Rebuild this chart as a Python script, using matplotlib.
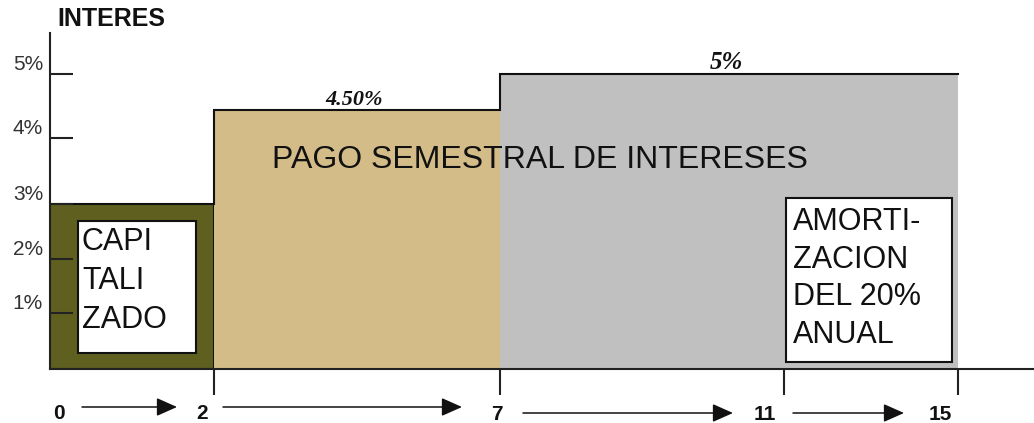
import numpy as np
import matplotlib
matplotlib.use("Agg")
import matplotlib.pyplot as plt
from matplotlib.transforms import ScaledTranslation
from matplotlib.patches import Rectangle

# ---------------- data ----------------
phase_start = [0, 2, 7]           # years
phase_end = [2, 7, 15]
phase_rate = [3.0, 4.5, 5.0]      # interest (%)
phase_colors = ["#5f601f", "#d4bc88", "#c0c0c0"]
phase_rate_labels = [None, "4.50%", "5%"]

year_ticks = [0, 2, 7, 11, 15]
year_labels = ["0", "2", "7", "11", "15"]
rate_ticks = [1, 2, 3, 4, 5]
rate_labels = ["1%", "2%", "3%", "4%", "5%"]

main_text = "PAGO SEMESTRAL DE INTERESES"
capi_text = "CAPI\nTALI\nZADO"
amort_text = "AMORTI-\nZACION\nDEL 20%\nANUAL"
y_title = "INTERES"

# ---------------- layout ----------------
W, H = 1034, 423
DPI = 100
x_px = [0, 164, 450, 734, 908]               # schematic (non-uniform) spacing of year_ticks
y_breaks = [0, 1, 2, 3, 4, 4.5, 5]           # schematic vertical spacing
y_px = [0, 56, 110, 165, 231, 259, 295]


def piecewise(xp, fp):
    xp = np.asarray(xp, float)
    fp = np.asarray(fp, float)

    def f(x):
        x = np.asarray(x, float)
        y = np.interp(x, xp, fp)
        lo_s = (fp[1] - fp[0]) / (xp[1] - xp[0])
        hi_s = (fp[-1] - fp[-2]) / (xp[-1] - xp[-2])
        y = np.where(x < xp[0], fp[0] + (x - xp[0]) * lo_s, y)
        y = np.where(x > xp[-1], fp[-1] + (x - xp[-1]) * hi_s, y)
        return y
    return f


xf, xinv = piecewise(year_ticks, x_px), piecewise(x_px, year_ticks)
yf, yinv = piecewise(y_breaks, y_px), piecewise(y_px, y_breaks)

SANS = "Liberation Sans"
plt.rcParams["font.family"] = [SANS, "DejaVu Sans"]

fig = plt.figure(figsize=(W / DPI, H / DPI), dpi=DPI)
ax = fig.add_axes([50 / W, (H - 369) / H, (W - 50) / W, (369 - 33) / H])
ax.set_xscale("function", functions=(xf, xinv))
ax.set_yscale("function", functions=(yf, yinv))
ax.set_xlim(0, float(xinv(984)))
ax.set_ylim(0, float(yinv(336)))

# blocks
widths = [e - s for s, e in zip(phase_start, phase_end)]
for i in range(len(phase_start)):
    ax.bar(phase_start[i], phase_rate[i], width=widths[i], align="edge",
           color=phase_colors[i],
           edgecolor="#111111" if i == 0 else "none",
           linewidth=1.5 if i == 0 else 0, zorder=1)

# step outline over the upper blocks
sx, sy = [phase_start[1]], [phase_rate[0]]
for i in range(1, len(phase_start)):
    sx += [phase_start[i], phase_end[i]]
    sy += [phase_rate[i], phase_rate[i]]
ax.plot(sx, sy, color="#111111", lw=1.5, zorder=2, solid_joinstyle="miter")

# white label boxes (layout, in axis units)
ax.add_patch(Rectangle((0.34, 0.29), 1.78 - 0.34, 2.69 - 0.29, facecolor="white",
                       edgecolor="#111111", lw=1.5, zorder=3))
ax.add_patch(Rectangle((11.05, 0.125), 14.86 - 11.05, 3.09 - 0.125, facecolor="white",
                       edgecolor="#111111", lw=1.5, zorder=3))
ax.annotate(capi_text, xy=(0.34, 2.69), xytext=(4, -6), textcoords="offset pixels",
            ha="left", va="top", fontsize=22, color="#111111", linespacing=1.38, zorder=4)
ax.annotate(amort_text, xy=(11.05, 3.09), xytext=(7, -9), textcoords="offset pixels",
            ha="left", va="top", fontsize=22, color="#111111", linespacing=1.33, zorder=4)

# main text
ax.text((540 - 50) / 984, (369 - 168) / 336, main_text, transform=ax.transAxes,
        ha="center", va="baseline", fontsize=23, color="#111111", zorder=4)

# rate labels above steps
rate_lbl_dx = [0, -3, -58]
rate_lbl_size = [0, 16, 18]
for i, lbl in enumerate(phase_rate_labels):
    if lbl is None:
        continue
    mid = (phase_start[i] + phase_end[i]) / 2
    ax.annotate(lbl, xy=(mid, phase_rate[i]), xytext=(rate_lbl_dx[i], 5),
                textcoords="offset pixels", ha="center", va="baseline",
                fontsize=rate_lbl_size[i], fontweight="bold", fontstyle="italic",
                family=["Liberation Serif", "DejaVu Serif"], color="#111111",
                annotation_clip=False)

# axes styling
for s in ["top", "right"]:
    ax.spines[s].set_visible(False)
for s in ["left", "bottom"]:
    ax.spines[s].set_linewidth(1.5)
    ax.spines[s].set_color("#222222")
    ax.spines[s].set_zorder(2.6)
ax.minorticks_off()
ax.set_xticks(year_ticks[1:])
ax.set_yticks(rate_ticks)
ax.tick_params(axis="x", direction="out", length=18.7, width=1.5, color="#222222",
               labelbottom=False)
ax.tick_params(axis="y", direction="in", length=16.5, width=1.5, color="#222222",
               labelleft=False)

# y tick labels
for v, lbl in zip(rate_ticks, rate_labels):
    ax.annotate(lbl, xy=(0, v), xycoords=("axes fraction", "data"), xytext=(-7, 4),
                textcoords="offset pixels", ha="right", va="baseline",
                fontsize=15, color="#333333", annotation_clip=False)

# x labels with arrows
lbl_dx = [9, -12, -3, -19, -18]
lbl_base = [50, 50, 51, 51, 51]   # px below baseline
for t, lbl, dx, dy in zip(year_ticks, year_labels, lbl_dx, lbl_base):
    ax.annotate(lbl, xy=(t, 0), xycoords=ax.get_xaxis_transform(), xytext=(dx, -dy),
                textcoords="offset pixels", ha="center", va="baseline",
                fontsize=15, fontweight="bold", color="#111111", annotation_clip=False)


def off(dx, dy):
    return ax.get_xaxis_transform() + ScaledTranslation(dx / DPI, dy / DPI, fig.dpi_scale_trans)


arr_gs = [32, 9, 23, 9]
arr_ge = [37, 38, 51, 54]
arr_drop = [38, 38, 44, 44]
for i in range(len(year_ticks) - 1):
    ax.annotate("", xy=(year_ticks[i + 1], 0), xycoords=off(-arr_ge[i], -arr_drop[i]),
                xytext=(year_ticks[i], 0), textcoords=off(arr_gs[i], -arr_drop[i]),
                arrowprops=dict(arrowstyle="-|>,head_length=0.9,head_width=0.4",
                                mutation_scale=14, lw=1.1, color="#111111",
                                shrinkA=0, shrinkB=0),
                annotation_clip=False)

fig.text(57 / W, (H - 26) / H, y_title, ha="left", va="baseline", fontsize=18,
         fontweight="bold", color="#111111")

fig.savefig("out.png", dpi=DPI)
